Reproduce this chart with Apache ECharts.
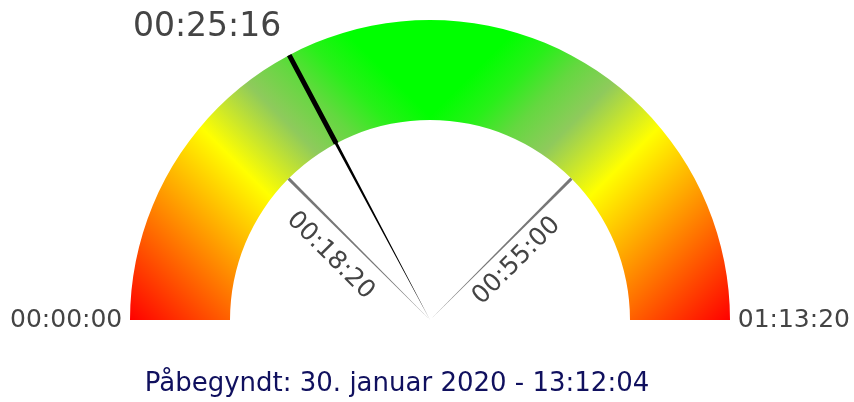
<!DOCTYPE html>
<html>
<head>
<meta charset="utf-8">
<script src="https://cdn.jsdelivr.net/npm/echarts@6/dist/echarts.min.js"></script>
<style>
  html, body { margin: 0; padding: 0; background: #fff; }
  #gauge { width: 854px; height: 402px; }
</style>
</head>
<body>
<div id="gauge"></div>
<script>
// values in seconds
let elapsed = 1516; // 00:25:16
let maxTime = 4400; // 01:13:20
let marks = [1100, 3300]; // 00:18:20, 00:55:00
let started = "Påbegyndt: 30. januar 2020 - 13:12:04";

let gaugeChart = echarts.init(document.getElementById("gauge"));

// colour band, from the ends (red) to the top (green)
const bandStops = [
  [0, "#ff0000"],
  [0.44, "#ffff00"],
  [0.59, "#8fca5c"],
  [0.68, "#64d840"],
  [0.76, "#28f019"],
  [0.84, "#00ff00"],
  [1, "#00ff00"],
];

function fmtTime(sec) {
  const h = Math.floor(sec / 3600);
  const m = Math.floor((sec % 3600) / 60);
  const s = Math.round(sec % 60);
  return [h, m, s].map((v) => String(v).padStart(2, "0")).join(":");
}

function bandGradient(mirror) {
  return new echarts.graphic.LinearGradient(
    mirror ? 1 : 0, 1, mirror ? 0 : 1, 0,
    bandStops.map((s) => ({ offset: s[0], color: s[1] }))
  );
}

const base = {
  type: "gauge",
  center: [430, 320],
  radius: 300,
  startAngle: 180,
  endAngle: 0,
  min: 0,
  max: maxTime,
  progress: { show: false },
  anchor: { show: false },
  title: { show: false },
  detail: { show: false },
  axisTick: { show: false },
  splitLine: { show: false, length: 0, distance: 0 },
};

// gray mark line with its rotated label, shifted off the line by lineHeight
function markSeries(value, rotate, distance, lineHeight) {
  return Object.assign({}, base, {
    splitNumber: 4,
    axisLine: { show: false },
    axisLabel: {
      show: true,
      distance: distance,
      rotate: rotate,
      lineHeight: lineHeight,
      color: "#444",
      fontSize: 25,
      fontFamily: "DejaVu Sans",
      formatter: (v) => (v === value ? "\n" + fmtTime(v) : ""),
    },
    pointer: {
      show: true,
      icon: "path://M0 0L10 0L5 100Z",
      length: 200,
      width: 3,
      itemStyle: { color: "#777" },
    },
    data: [{ value: value }],
  });
}

let gaugeOption = {
  animation: false,
  title: [
    {
      text: fmtTime(elapsed),
      left: 133,
      top: 11,
      padding: 0,
      textStyle: {
        fontFamily: "DejaVu Sans",
        fontSize: 33,
        fontWeight: "normal",
        color: "#444",
      },
    },
    {
      text: started,
      left: 397,
      top: 371,
      textAlign: "center",
      padding: 0,
      textStyle: {
        fontFamily: "DejaVu Sans",
        fontSize: 26,
        fontWeight: "normal",
        color: "#10105e",
      },
    },
  ],
  series: [
    Object.assign({}, base, {
      splitNumber: 1,
      axisLine: {
        show: true,
        lineStyle: {
          width: 100,
          color: [
            [0.5, bandGradient(false)],
            [1, bandGradient(true)],
          ],
        },
      },
      axisLabel: {
        show: true,
        distance: -120,
        color: "#444",
        fontSize: 25,
        fontFamily: "DejaVu Sans",
        formatter: (v) => fmtTime(v),
      },
      pointer: {
        show: true,
        icon: "path://M0 0L10 0L10 100L8 100L5 300L2 100L0 100Z",
        length: 300,
        width: 5,
        itemStyle: { color: "#000" },
      },
      data: [{ value: elapsed }],
    }),
    markSeries(marks[0], -45, 184, 50),
    markSeries(marks[1], 45, 197, 39),
  ],
};

gaugeChart.setOption(gaugeOption);
</script>
</body>
</html>
